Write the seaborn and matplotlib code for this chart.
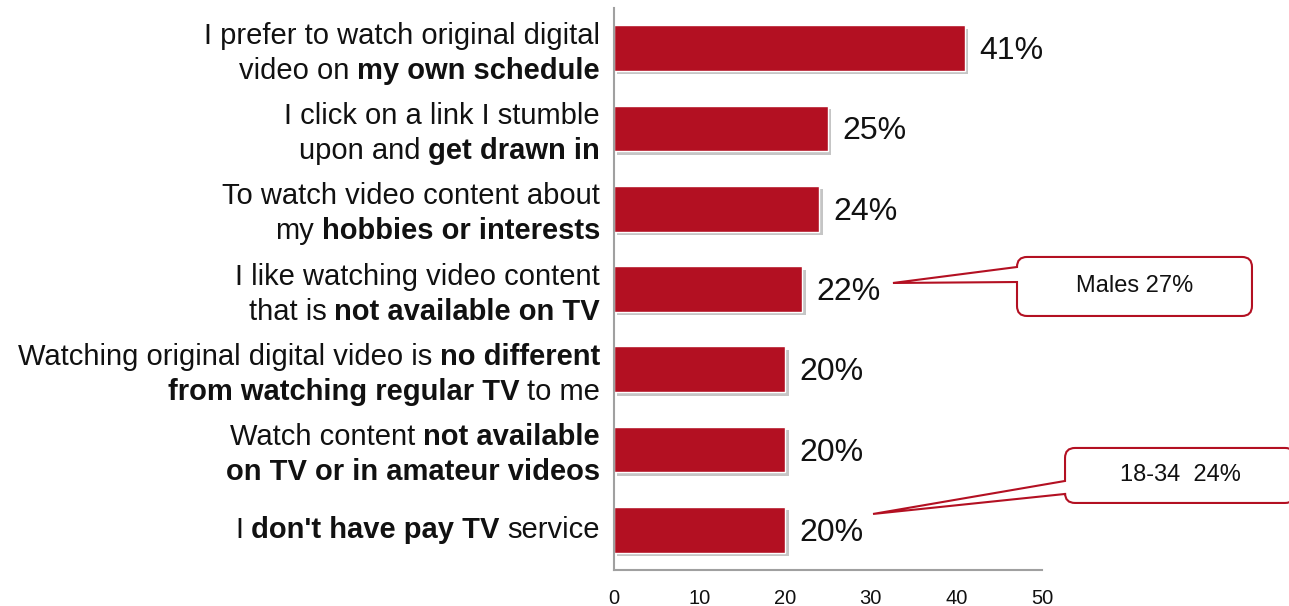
import matplotlib
matplotlib.use("Agg")
import matplotlib.pyplot as plt
import matplotlib.patheffects as pe
from matplotlib.path import Path
from matplotlib.patches import PathPatch
from matplotlib.transforms import IdentityTransform
import seaborn as sns
import pandas as pd

# ---------------- data ----------------
categories = [
    "I prefer to watch original digital video on my own schedule",
    "I click on a link I stumble upon and get drawn in",
    "To watch video content about my hobbies or interests",
    "I like watching video content that is not available on TV",
    "Watching original digital video is no different from watching regular TV to me",
    "Watch content not available on TV or in amateur videos",
    "I don't have pay TV service",
]
values = [41, 25, 24, 22, 20, 20, 20]
value_labels = ["41%", "25%", "24%", "22%", "20%", "20%", "20%"]
# label lines: list of (text, bold) segments per line
label_lines = [
    [[("I prefer to watch original digital", False)], [("video on", False), ("my own schedule", True)]],
    [[("I click on a link I stumble", False)], [("upon and", False), ("get drawn in", True)]],
    [[("To watch video content about", False)], [("my", False), ("hobbies or interests", True)]],
    [[("I like watching video content", False)], [("that is", False), ("not available on TV", True)]],
    [[("Watching original digital video is", False), ("no different", True)],
     [("from watching regular TV", True), ("to me", False)]],
    [[("Watch content", False), ("not available", True)], [("on TV or in amateur videos", True)]],
    [[("I", False), ("don't have pay TV", True), ("service", False)]],
]
x_ticks = [0, 10, 20, 30, 40, 50]
callout_texts = ["Males 27%", "18-34  24%"]

# ---------------- style ----------------
RED = "#B31022"
W, H, DPI = 12.89, 6.06, 100
sns.set_theme(style="white")
plt.rcParams["font.family"] = ["Liberation Sans", "DejaVu Sans"]

fig = plt.figure(figsize=(W, H), dpi=DPI)
ax = fig.add_axes([614 / 1289, 36 / 606, 428 / 1289, 562 / 606])

df = pd.DataFrame({"cat": categories, "val": values})
sns.barplot(data=df, x="val", y="cat", orient="h", color=RED, saturation=1,
            width=0.57, ax=ax)

for p in ax.patches:
    p.set_path_effects([pe.SimplePatchShadow(offset=(2.5, -2.5), shadow_rgbFace="#808080", alpha=0.45),
                        pe.Normal()])

ax.set_xlim(0, 50)
ax.set_ylim(6.5, -0.5)
ax.set_xticks(x_ticks)
ax.set_xticklabels([str(t) for t in x_ticks])
ax.tick_params(axis="x", length=0, pad=14, labelsize=14.5, labelcolor="#111111")
ax.set_yticks([])
ax.set_xlabel("")
ax.set_ylabel("")
for s in ["top", "right"]:
    ax.spines[s].set_visible(False)
for s in ["left", "bottom"]:
    ax.spines[s].set_color("#A0A0A0")
    ax.spines[s].set_linewidth(1.5)

# value labels
for i, (v, lab) in enumerate(zip(values, value_labels)):
    ax.annotate(lab, xy=(v, i), xycoords="data", xytext=(14, -3), textcoords="offset pixels",
                ha="left", va="center", fontsize=23, color="#111111")

# category labels with mixed bold
FS = 21
LINE_PX = 35
GAP = 8
for i, lines in enumerate(label_lines):
    n = len(lines)
    for li, segs in enumerate(lines):
        dy = (n - 1) / 2 * LINE_PX - li * LINE_PX - (5 if n > 1 else 0)
        prev = None
        for text, bold in reversed(segs):
            w = "bold" if bold else "normal"
            if prev is None:
                prev = ax.annotate(text, xy=(0, i), xycoords=("axes fraction", "data"),
                                   xytext=(-14, dy), textcoords="offset pixels",
                                   ha="right", va="center", fontsize=FS, fontweight=w,
                                   color="#111111", annotation_clip=False)
            else:
                prev = ax.annotate(text, xy=(0, 0.5), xycoords=prev,
                                   xytext=(-GAP, 0), textcoords="offset pixels",
                                   ha="right", va="center", fontsize=FS, fontweight=w,
                                   color="#111111", annotation_clip=False)


# callouts
def callout(text, box, tip, base, r=10):
    x0, x1, y0, y1 = box
    T = ax.transData
    L, Tp = T.transform((x0, y0))
    R, B = T.transform((x1, y1))
    tx, ty = T.transform(tip)
    _, ya = T.transform((x0, base[0]))
    _, yb = T.transform((x0, base[1]))
    verts = [(L, ya), (L, Tp - r), (L, Tp), (L + r, Tp), (R - r, Tp), (R, Tp), (R, Tp - r),
             (R, B + r), (R, B), (R - r, B), (L + r, B), (L, B), (L, B + r), (L, yb),
             (tx, ty), (L, ya)]
    codes = [Path.MOVETO, Path.LINETO, Path.CURVE3, Path.CURVE3, Path.LINETO, Path.CURVE3,
             Path.CURVE3, Path.LINETO, Path.CURVE3, Path.CURVE3, Path.LINETO, Path.CURVE3,
             Path.CURVE3, Path.LINETO, Path.LINETO, Path.CLOSEPOLY]
    patch = PathPatch(Path(verts, codes), transform=IdentityTransform(), facecolor="white",
                      edgecolor=RED, lw=1.5, clip_on=False, zorder=5)
    ax.add_artist(patch)
    ax.text((x0 + x1) / 2, (y0 + y1) / 2, text, ha="center", va="center", fontsize=17,
            color="#111111", clip_on=False, zorder=6)


callout(callout_texts[0], (47.08, 74.53, 2.601, 3.336), (32.59, 2.925), (2.726, 2.913))
callout(callout_texts[1], (52.69, 79.56, 4.980, 5.665), (30.26, 5.802), (5.391, 5.553))

fig.savefig("out.png", dpi=DPI)
